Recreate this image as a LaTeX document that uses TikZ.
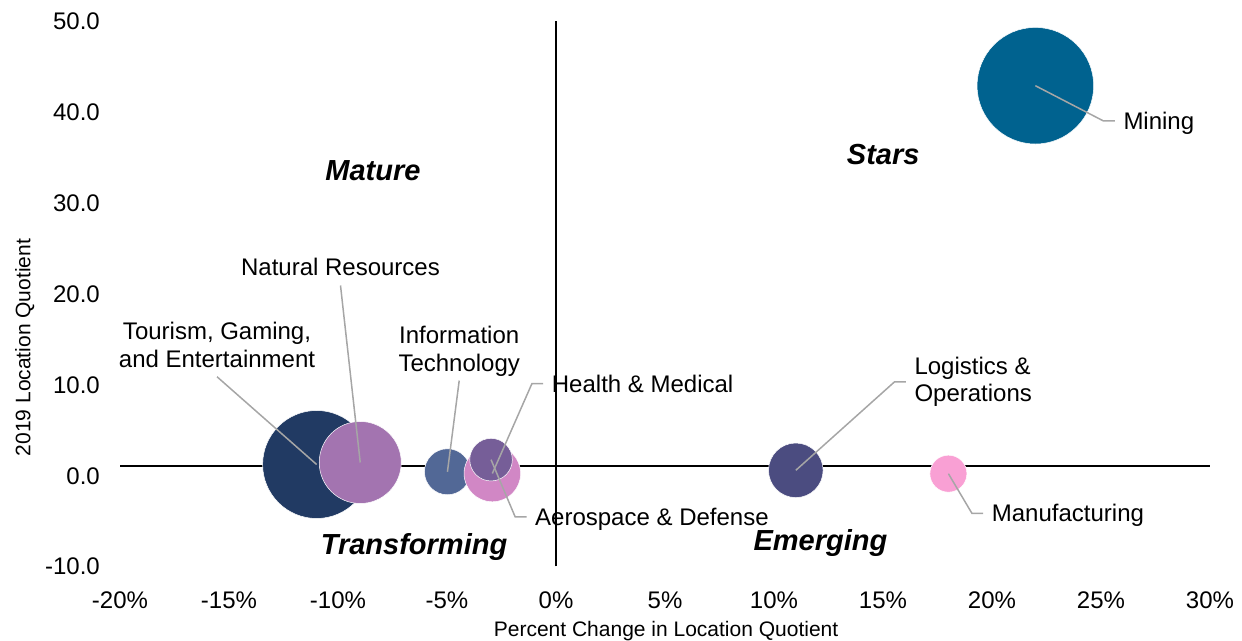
\documentclass[tikz,border=0pt]{standalone}
\usepackage{fontspec}
\setmainfont{Liberation Sans}
\usetikzlibrary{positioning}
\definecolor{cMining}{HTML}{00628F}
\definecolor{cTourism}{HTML}{213A63}
\definecolor{cNatRes}{HTML}{A374B0}
\definecolor{cInfoTech}{HTML}{526896}
\definecolor{cHealth}{HTML}{D187C5}
\definecolor{cAero}{HTML}{765E98}
\definecolor{cLogist}{HTML}{4B4C80}
\definecolor{cManuf}{HTML}{F9A0D4}
\definecolor{cLeader}{HTML}{A6A6A6}
\tikzset{
        % Bubbles
        bubble/.style={circle, inner sep=0pt, draw=white, line width=0.5pt},
        % Data labels
        lbl/.style={inner xsep=8.5pt, inner ysep=0pt, font=\fontsize{24}{27.5}\selectfont},
        lbl_one/.style={lbl, text height=17.2pt, text depth=0pt},
        % Leader lines
        leader/.style={draw=cLeader, line width=1.5pt},
        % Quadrant names
        quad/.style={inner sep=0pt, text height=20.8pt, text depth=0pt, font=\fontsize{29}{34}\selectfont\bfseries\itshape},
        % Tick labels
        tick_lbl/.style={inner sep=0pt, text height=17.2pt, text depth=0pt, font=\fontsize{24}{28}\selectfont},
        % Axis titles
        axis_title/.style={inner sep=0pt, text height=15pt, text depth=0pt, font=\fontsize{21}{25}\selectfont}
}
\begin{document}
\begin{tikzpicture}[x=21.8pt, y=9.09pt]
            \useasboundingbox (-25.505,-18.207) rectangle (31.468,52.310);
            % axes
            \draw[line width=2pt] (-20,1) -- (30,1);
            \draw[line width=2pt] (0,-10) -- (0,50);
            % tick labels
            \node[tick_lbl, anchor=east] (y50) at (-20.917,50) {50.0};
            \node[tick_lbl, anchor=east] (y40) at (-20.917,40) {40.0};
            \node[tick_lbl, anchor=east] (y30) at (-20.917,30) {30.0};
            \node[tick_lbl, anchor=east] (y20) at (-20.917,20) {20.0};
            \node[tick_lbl, anchor=east] (y10) at (-20.917,10) {10.0};
            \node[tick_lbl, anchor=east] (y0) at (-20.917,0) {0.0};
            \node[tick_lbl, anchor=east] (ym10) at (-20.917,-10) {-10.0};
            \node[tick_lbl] (xm20) at (-20,-13.7) {-20\%};
            \node[tick_lbl] (xm15) at (-15,-13.7) {-15\%};
            \node[tick_lbl] (xm10) at (-10,-13.7) {-10\%};
            \node[tick_lbl] (xm5) at (-5,-13.7) {-5\%};
            \node[tick_lbl] (x0) at (0,-13.7) {0\%};
            \node[tick_lbl] (x5) at (5,-13.7) {5\%};
            \node[tick_lbl] (x10) at (10,-13.7) {10\%};
            \node[tick_lbl] (x15) at (15,-13.7) {15\%};
            \node[tick_lbl] (x20) at (20,-13.7) {20\%};
            \node[tick_lbl] (x25) at (25,-13.7) {25\%};
            \node[tick_lbl] (x30) at (30,-13.7) {30\%};
            \node[axis_title] (xtitle) at (5.05,-16.89) {Percent Change in Location Quotient};
            \node[axis_title, rotate=90] (ytitle) at (-24.45,14.08) {2019 Location Quotient};
            % quadrants
            \node[quad] (mature) at (-8.40,33.55) {Mature};
            \node[quad] (stars) at (15.01,35.35) {Stars};
            \node[quad] (transforming) at (-6.51,-7.54) {Transforming};
            \node[quad] (emerging) at (12.13,-7.10) {Emerging};
            % bubbles
            \node[bubble, fill=cTourism, minimum size=108pt] (tourism) at (-10.98,1.21) {};
            \node[bubble, fill=cNatRes, minimum size=82pt] (natres) at (-8.98,1.43) {};
            \node[bubble, fill=cInfoTech, minimum size=46pt] (infotech) at (-4.98,0.41) {};
            \node[bubble, fill=cHealth, minimum size=56.6pt] (health) at (-2.92,0.22) {};
            \node[bubble, fill=cAero, minimum size=42.6pt] (aero) at (-2.98,1.74) {};
            \node[bubble, fill=cLogist, minimum size=54.6pt] (logist) at (11.0,0.57) {};
            \node[bubble, fill=cManuf, minimum size=37pt] (manuf) at (18.0,0.2) {};
            \node[bubble, fill=cMining, minimum size=116.6pt] (mining) at (21.99,42.88) {};
            % labels
            \node[lbl, align=center] (lbl_tourism) at (-15.55,14.39) {Tourism, Gaming,\\and Entertainment};
            \node[lbl_one] (lbl_natres) at (-9.885,22.97) {Natural Resources};
            \node[lbl, align=center] (lbl_infotech) at (-4.44,13.67) {Information\\Technology};
            \node[lbl_one, anchor=west] (lbl_health) at (-0.587,10.10) {Health \& Medical};
            \node[lbl_one, anchor=west] (lbl_aero) at (-1.353,-4.565) {Aerospace \& Defense};
            \node[lbl, align=left, anchor=west] (lbl_logist) at (16.046,10.3) {Logistics \&\\Operations};
            \node[lbl_one, anchor=west] (lbl_manuf) at (19.596,-4.158) {Manufacturing};
            \node[lbl_one, anchor=west] (lbl_mining) at (25.633,39.0) {Mining};
            % leader lines
            \draw[leader] ([yshift=-9.3pt]lbl_tourism.south) -- (tourism.center);
            \draw[leader] ([yshift=-10pt]lbl_natres.south) -- (natres.center);
            \draw[leader] ([yshift=-4.2pt]lbl_infotech.south) -- (infotech.center);
            \draw[leader] (health.center) -- ([xshift=-11.3pt]lbl_health.west) -- (lbl_health.west);
            \draw[leader] (aero.center) -- ([xshift=-11.3pt]lbl_aero.west) -- (lbl_aero.west);
            \draw[leader] (logist.center) -- ([xshift=-11.3pt]lbl_logist.west) -- (lbl_logist.west);
            \draw[leader] (manuf.center) -- ([xshift=-11.3pt]lbl_manuf.west) -- (lbl_manuf.west);
            \draw[leader] (mining.center) -- ([xshift=-11.3pt]lbl_mining.west) -- (lbl_mining.west);
\end{tikzpicture}
\end{document}
